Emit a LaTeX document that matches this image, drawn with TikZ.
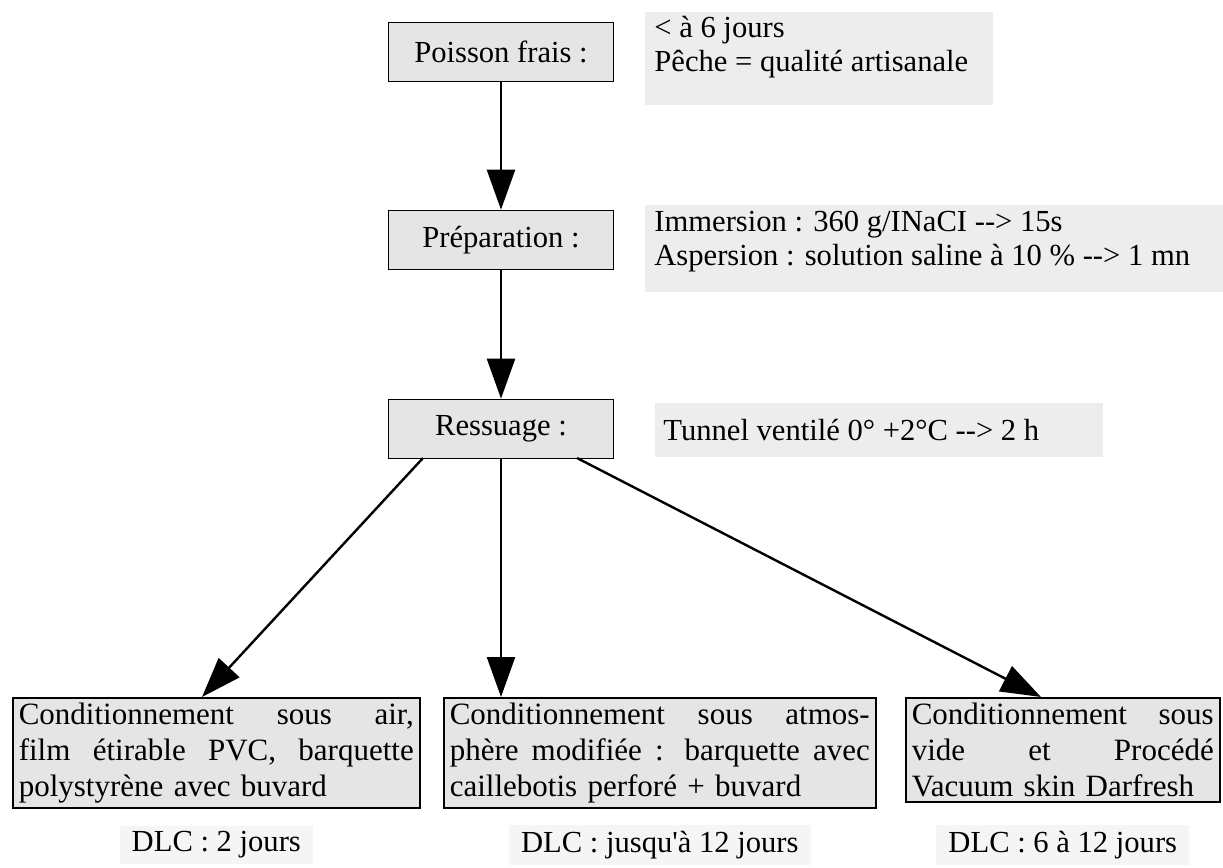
\documentclass[tikz,border=0pt]{standalone}
\usepackage{fontspec}
% a family of its own, so "--" and "'" are printed as typed
\newfontfamily\docserif{Liberation Serif}
\usetikzlibrary{arrows.meta}

% one justified line of a packaging box (the font's stretchable spaces)
\newcommand{\jline}[1]{\leavevmode\hbox to \hsize{\spaceskip=0pt\xspaceskip=0pt #1}}

\begin{document}
\begin{tikzpicture}[x=0.5pt,y=-0.5pt,
  txt/.style={font=\docserif\fontsize{15.3}{17}\selectfont},
  stepbox/.style={txt, draw=black, line width=0.8pt, fill=black!10,
    inner sep=0pt, minimum width=112.5pt, minimum height=29.5pt},
  note/.style={txt, anchor=west, align=left, inner sep=0pt},
  notebg/.style={fill=black!7},
  packbox/.style={font=\docserif\fontsize{15.5}{18}\selectfont, draw=black, line width=0.8pt,
    fill=black!10, anchor=north west, inner xsep=3pt, inner ysep=2.5pt, align=left},
  dlc/.style={txt, fill=black!4, inner xsep=6pt, inner ysep=3pt},
  flow/.style={line width=1.2pt, -{Triangle[length=20pt,width=14pt]}},
]
\useasboundingbox (0,0) rectangle (1223,868);
\fill[white] (0,0) rectangle (1223,868);

% grey backgrounds of the side notes
\fill[notebg] (645,12) rectangle (993,105);
\fill[notebg] (645,205) rectangle (1223,292);
\fill[notebg] (655,403) rectangle (1103,457);

% main steps
\node[stepbox] (pf)   at (501,52)  {Poisson frais :};
\node[stepbox] (prep) at (501,240) {Préparation :};
\node[stepbox] (res)  at (501,429) {Ressuage :};

% side notes
\node[note] (n1) at (654,47) {< à 6 jours\\Pêche = qualité artisanale};
\node[note] (n2) at (654,242) {Immersion : 360 g/INaCI --> 15s\\Aspersion : solution saline à 10 \% --> 1 mn};
\node[note] (n3) at (663,430) {Tunnel ventilé 0° +2°C --> 2 h};

% packaging options
\node[packbox, text width=197.5pt] (b1) at (12,697)
  {\jline{Conditionnement sous air,}\\\jline{film étirable PVC, barquette}\\polystyrène avec buvard};
\node[packbox, text width=210pt] (b2) at (443,697)
  {\jline{Conditionnement sous atmos-}\\\jline{phère modifiée : barquette avec}\\caillebotis perforé + buvard};
\node[packbox, text width=151pt] (b3) at (905,697)
  {\jline{Conditionnement sous}\\\jline{vide et Procédé}\\Vacuum skin Darfresh};

% shelf lives
\node[dlc] (d1) at (b1.south |- 0,845) {DLC : 2 jours};
\node[dlc] (d2) at (b2.south |- 0,845) {DLC : jusqu'à 12 jours};
\node[dlc] (d3) at (b3.south |- 0,845) {DLC : 6 à 12 jours};

% connectors
\coordinate (r1) at (423,458);
\coordinate (r3) at (577,458);
\coordinate (t1) at (202,697);
\coordinate (t3) at (1041,697);
\draw[flow] (pf) -- (prep);
\draw[flow] (prep) -- (res);
\draw[flow] (r1) -- (t1);
\draw[flow] (res.south) -- (res.south |- b2.north);
\draw[flow] (r3) -- (t3);
\end{tikzpicture}
\end{document}
